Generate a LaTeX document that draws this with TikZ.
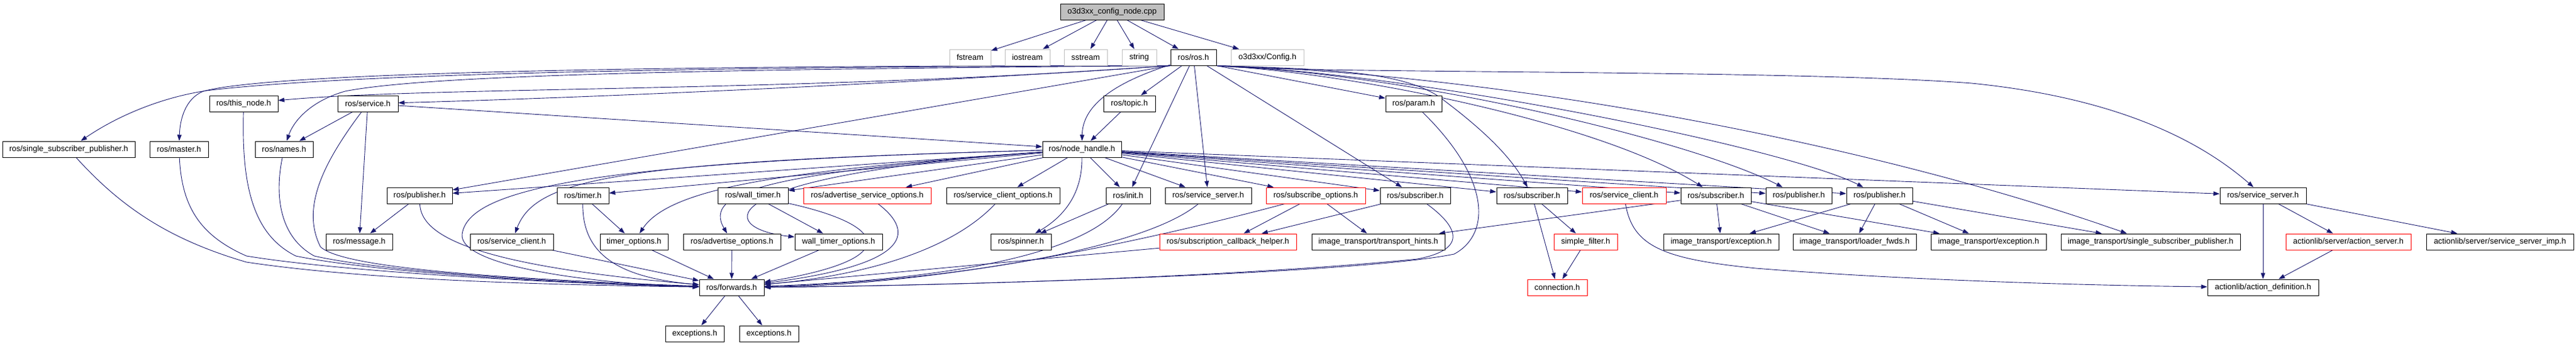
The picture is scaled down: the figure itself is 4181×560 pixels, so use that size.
\documentclass[tikz,border=0pt]{standalone}
\usepackage{fontspec}
\setmainfont{Liberation Sans}
\usetikzlibrary{arrows.meta}
\definecolor{edgeblue}{HTML}{191970}
\definecolor{greyb}{HTML}{BFBFBF}
\definecolor{redb}{HTML}{FF0000}
\pgfdeclarelayer{bg}
\pgfdeclarelayer{edges}
\pgfsetlayers{bg,edges,main}
\newcommand\mknode[6][box]{\node[#1,minimum width=#5pt] (#2) at (#3,#4) {#6};}
\begin{document}
\begin{tikzpicture}[x=1pt,y=-1pt,
  basebox/.style={line width=1pt, inner sep=0pt, minimum height=26pt, font=\fontsize{13}{15}\selectfont, fill=white},
  box/.style={basebox, draw=black},
  redbox/.style={basebox, draw=redb},
  greybox/.style={basebox, draw=greyb},
  rootbox/.style={basebox, draw=black, fill=greyb},
  dep/.style={draw=edgeblue, line width=0.9pt, -{Triangle[length=10pt,width=7pt]}}
]
\begin{pgfonlayer}{bg}
\fill[white] (0,0) rectangle (4181,560);
\end{pgfonlayer}
\useasboundingbox (0,0) rectangle (4181,560);
% row 0
\mknode[rootbox]{root}{1805}{19}{168}{o3d3xx\_config\_node.cpp}
% row 1
\mknode[greybox]{fstream}{1574.5}{93}{67}{fstream}
\mknode[greybox]{iostream}{1667.5}{93}{73}{iostream}
\mknode[greybox]{sstream}{1762}{93}{70}{sstream}
\mknode[greybox]{string}{1849}{93}{56}{string}
\mknode{rosh}{1937}{93}{74}{ros/ros.h}
\mknode[greybox]{config}{2057}{93}{118}{o3d3xx/Config.h}
% row 2
\mknode{thisnode}{395.5}{168}{111}{ros/this\_node.h}
\mknode{service}{597}{168}{98}{ros/service.h}
\mknode{topic}{1833}{168}{84}{ros/topic.h}
\mknode{param}{2294.5}{168}{91}{ros/param.h}
% row 3
\mknode{ssp}{111.5}{242}{215}{ros/single\_subscriber\_publisher.h}
\mknode{master}{290.5}{242}{95}{ros/master.h}
\mknode{names}{461}{242}{94}{ros/names.h}
\mknode{nh}{1756}{242}{128}{ros/node\_handle.h}
% row 4
\mknode{pub1}{681}{317}{106}{ros/publisher.h}
\mknode{timer}{946}{317}{84}{ros/timer.h}
\mknode{walltimer}{1222}{317}{114}{ros/wall\_timer.h}
\mknode[redbox]{aso}{1407.5}{317}{207}{ros/advertise\_service\_options.h}
\mknode{sco}{1628}{317}{184}{ros/service\_client\_options.h}
\mknode{init}{1831}{317}{72}{ros/init.h}
\mknode{ssa}{1961}{317}{140}{ros/service\_server.h}
\mknode[redbox]{subopt}{2135.5}{317}{161}{ros/subscribe\_options.h}
\mknode{suba}{2297}{317}{114}{ros/subscriber.h}
\mknode{subb}{2486.5}{317}{115}{ros/subscriber.h}
\mknode[redbox]{screx}{2636}{317}{136}{ros/service\_client.h}
\mknode{subc}{2785}{317}{114}{ros/subscriber.h}
\mknode{pubb}{2919.5}{317}{107}{ros/publisher.h}
\mknode{pubc}{3050.5}{317}{107}{ros/publisher.h}
\mknode{ssb}{3673}{317}{140}{ros/service\_server.h}
% row 5
\mknode{message}{583}{392}{108}{ros/message.h}
\mknode{sc}{830.5}{392}{135}{ros/service\_client.h}
\mknode{timeropt}{1029}{392}{110}{timer\_options.h}
\mknode{advopt}{1188}{392}{158}{ros/advertise\_options.h}
\mknode{wto}{1361}{392}{142}{wall\_timer\_options.h}
\mknode{spinner}{1657}{392}{98}{ros/spinner.h}
\mknode[redbox]{sch}{1993}{392}{222}{ros/subscription\_callback\_helper.h}
\mknode{th}{2237}{392}{216}{image\_transport/transport\_hints.h}
\mknode[redbox]{sf}{2573.5}{392}{103}{simple\_filter.h}
\mknode{itea}{2793.5}{392}{187}{image\_transport/exception.h}
\mknode{lf}{3010}{392}{200}{image\_transport/loader\_fwds.h}
\mknode{iteb}{3227.5}{392}{187}{image\_transport/exception.h}
\mknode{issp}{3490.5}{392}{291}{image\_transport/single\_subscriber\_publisher.h}
\mknode[redbox]{as}{3811.5}{392}{203}{actionlib/server/action\_server.h}
\mknode{ssimp}{4057.5}{392}{239}{actionlib/server/service\_server\_imp.h}
% row 6
\mknode{fwd}{1187.5}{466}{105}{ros/forwards.h}
\mknode[redbox]{conn}{2527.5}{466}{97}{connection.h}
\mknode{ad}{3673}{466}{180}{actionlib/action\_definition.h}
% row 7
\mknode{exca}{1127.5}{541}{95}{exceptions.h}
\mknode{excb}{1248}{541}{96}{exceptions.h}

\begin{pgfonlayer}{edges}
% root
\foreach \t in {fstream,iostream,sstream,string,rosh,config} \draw[dep] (root) -- (\t);
% ros.h
\draw[dep] (rosh) -- (topic);
\draw[dep] (rosh) .. controls (1790,140) and (1757,180) .. (nh);
\draw[dep] (rosh.south east) -- (param);
\draw[dep] (rosh) -- (init);
\draw[dep] (rosh) -- (ssa);
\draw[dep] (rosh) -- (suba);
\draw[dep] (rosh.south east) .. controls (2150,112) and (2280,115) .. (2340,160) .. controls (2400,205) and (2450,250) .. (subb);
\draw[dep] (rosh.south east) .. controls (2200,118) and (2600,200) .. (subc);
\draw[dep] (rosh.south east) .. controls (2300,120) and (2750,230) .. (pubb);
\draw[dep] (rosh.south east) .. controls (2300,118) and (2900,240) .. (pubc);
\draw[dep] (rosh.south east) .. controls (2400,118) and (3000,220) .. (issp);
\draw[dep] (rosh.south east) .. controls (2100,120) and (2900,112) .. (3200,135) .. controls (3400,155) and (3550,210) .. (ssb);
\draw[dep] (rosh.south west) .. controls (1300,108) and (600,115) .. (335,147) .. controls (250,160) and (180,195) .. (ssp);
\draw[dep] (rosh.south west) .. controls (1300,106) and (460,112) .. (330,148) .. controls (300,160) and (292,195) .. (master);
\draw[dep] (rosh.south west) .. controls (1200,112) and (700,120) .. (560,148) .. controls (500,165) and (475,200) .. (names);
\draw[dep] (rosh.south west) .. controls (1300,150) and (700,140) .. (thisnode);
\draw[dep] (rosh.south west) .. controls (1400,140) and (900,160) .. (service);
\draw[dep] (rosh.south west) -- (pub1);
% node_handle
\draw[dep] (nh) -- (pub1);
\draw[dep] (nh) .. controls (1000,262) and (870,290) .. (sc);
\draw[dep] (nh) -- (timer);
\draw[dep] (nh) .. controls (1300,275) and (1090,300) .. (timeropt);
\draw[dep] (nh) .. controls (1250,280) and (1140,310) .. (advopt);
\draw[dep] (nh) .. controls (1150,285) and (1160,370) .. (wto);
\draw[dep] (nh) -- (walltimer);
\draw[dep] (nh) -- (aso);
\draw[dep] (nh) .. controls (1000,262) and (760,300) .. (750,380) .. controls (745,430) and (950,460) .. (fwd);
\draw[dep] (nh) -- (sco);
\draw[dep] (nh.south) .. controls (1757,320) and (1720,355) .. (spinner);
\draw[dep] (nh) -- (init);
\draw[dep] (nh) -- (ssa);
\draw[dep] (nh) -- (subopt);
\foreach \t in {suba,subb,screx,subc,pubb,pubc,ssb} \draw[dep] (nh) -- (\t);
% row 2 / 3
\draw[dep] (topic) -- (nh);
\draw[dep] (service) -- (nh);
\draw[dep] (service) -- (names);
\draw[dep] (service) -- (message);
\draw[dep] (service) .. controls (520,270) and (490,340) .. (520,400) .. controls (560,440) and (900,455) .. (fwd);
\draw[dep] (ssp) .. controls (200,340) and (280,390) .. (400,425) .. controls (600,455) and (900,462) .. (fwd);
\draw[dep] (master) .. controls (295,330) and (320,380) .. (400,415) .. controls (550,440) and (900,460) .. (fwd);
\draw[dep] (thisnode) .. controls (392,300) and (410,380) .. (480,415) .. controls (600,440) and (900,460) .. (fwd);
\draw[dep] (names) .. controls (445,320) and (455,385) .. (510,415) .. controls (620,440) and (900,458) .. (fwd);
\draw[dep] (param) .. controls (2420,290) and (2420,380) .. (2360,412) .. controls (2200,445) and (1500,464) .. (fwd);
% row 4
\draw[dep] (pub1) -- (message);
\draw[dep] (pub1) .. controls (683,380) and (760,430) .. (fwd);
\draw[dep] (timer) -- (timeropt);
\draw[dep] (timer) .. controls (945,410) and (1000,450) .. (fwd);
\draw[dep] (walltimer) -- (wto);
\draw[dep] (walltimer) .. controls (1440,365) and (1470,420) .. (fwd);
\draw[dep] (aso) .. controls (1490,380) and (1470,430) .. (fwd);
\draw[dep] (sco) .. controls (1550,400) and (1420,445) .. (fwd);
\draw[dep] (init) -- (spinner);
\draw[dep] (init) .. controls (1760,420) and (1500,455) .. (fwd);
\draw[dep] (ssa) .. controls (1850,410) and (1500,458) .. (fwd);
\draw[dep] (subopt) .. controls (1900,380) and (1550,462) .. (fwd);
\draw[dep] (subopt) -- (sch);
\draw[dep] (subopt) -- (th);
\draw[dep] (suba) -- (sch);
\draw[dep] (suba) .. controls (2370,370) and (2380,405) .. (2300,420) .. controls (2000,450) and (1500,464) .. (fwd);
\draw[dep] (subb) -- (conn);
\draw[dep] (subb) -- (sf);
\draw[dep] (screx) .. controls (2650,400) and (2700,420) .. (2850,435) .. controls (3100,455) and (3400,463) .. (ad);
\foreach \t in {th,itea,lf,iteb} \draw[dep] (subc) -- (\t);
\foreach \t in {itea,lf,iteb,issp} \draw[dep] (pubc) -- (\t);
\draw[dep] (ssb) -- (ad);
\draw[dep] (ssb) -- (as);
\draw[dep] (ssb) -- (ssimp);
% row 5
\draw[dep] (sc) -- (fwd);
\draw[dep] (timeropt) -- (fwd);
\draw[dep] (advopt) -- (fwd);
\draw[dep] (wto) -- (fwd);
\draw[dep] (sch) -- (fwd);
\draw[dep] (sf) -- (conn);
\draw[dep] (as) -- (ad);
% row 6
\draw[dep] (fwd) -- (exca);
\draw[dep] (fwd) -- (excb);
\end{pgfonlayer}
\end{tikzpicture}
\end{document}
